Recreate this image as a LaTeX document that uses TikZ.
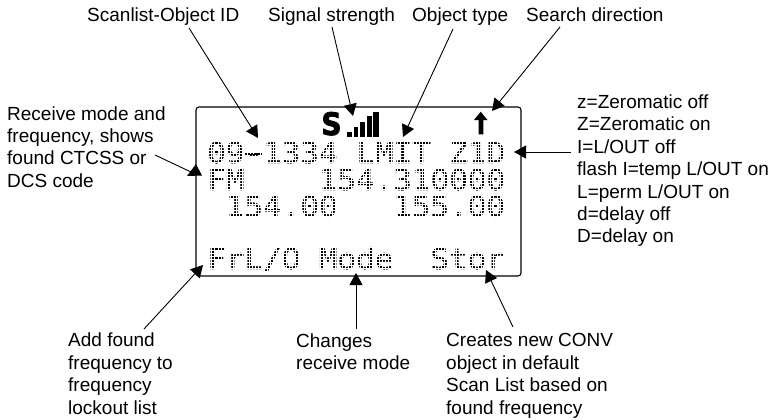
\documentclass[tikz,border=0pt]{standalone}
\usepackage{fontspec}
\setmainfont{Liberation Sans}
\newfontfamily\lcdfont[FakeStretch=1.075,FakeBold=1.0]{DejaVu Sans Mono}
\newfontfamily\iconfont[FakeStretch=0.9,FakeBold=2.5]{DejaVu Sans Bold}
\usetikzlibrary{arrows.meta}
\tikzset{
  x=1pt,y=-1pt,
  lbl/.style={anchor=base west,inner sep=0pt,align=left,font=\fontsize{19}{22.4}\selectfont},
  lcd/.style={anchor=base west,inner sep=0pt,font=\fontsize{28.8}{30}\lcdfont},
  conn/.style={line width=0.9pt,-{Triangle[length=12pt,width=13pt]},shorten >=0pt},
  frame/.style={line width=1.1pt,rounded corners=3pt},
}
\begin{document}
\begin{tikzpicture}
\useasboundingbox (0,0) rectangle (779,420);
% labels
\node[lbl] (scan) at (87,22) {Scanlist-Object ID};
\node[lbl] (sig) at (268,22) {Signal strength};
\node[lbl] (obj) at (412,22) {Object type};
\node[lbl] (srch) at (526,22) {Search direction};
\node[lbl] (rcv) at (7,187.2) {Receive mode and\\frequency, shows\\found CTCSS or\\DCS code};
\node[lbl] (flags) at (577,242.9) {z=Zeromatic off\\Z=Zeromatic on\\I=L/OUT off\\flash I=temp L/OUT on\\L=perm L/OUT on\\d=delay off\\D=delay on};
\node[lbl] (add) at (68,414) {Add found\\frequency to\\frequency\\lockout list};
\node[lbl] (chg) at (296,369.4) {Changes\\receive mode};
\node[lbl] (crt) at (446,414) {Creates new CONV\\object in default\\Scan List based on\\found frequency};
% LCD text
\node[lcd] (r1) at (207,163) {09-1334 LMIT Z1D};
\node[lcd] (r2a) at (207,190) {FM};
\node[lcd] (r2b) at (318.6,190) {154.310000};
\node[lcd] (r3a) at (225.6,216.5) {154.00};
\node[lcd] (r3b) at (393,216.5) {155.00};
\node[lcd] (r4a) at (207,269) {FrL/O};
\node[lcd] (r4b) at (318.6,269) {Mode};
\node[lcd] (r4c) at (430.2,269) {Stor};
% dot-matrix raster
\foreach \ya/\yb in {140/166,167/193,194/220,246/272}{
  \foreach \i in {0,...,98}{\draw[white,line width=0.8pt] ({205.5+3.1*\i},\ya) -- ({205.5+3.1*\i},\yb);}
  \foreach \j in {0,...,8}{\draw[white,line width=0.8pt] (205,{\ya+1+3.1*\j}) -- (510,{\ya+1+3.1*\j});}
}
% long LCD hyphen
\draw[line width=2.4pt,dash pattern=on 2.2pt off 0.9pt] (245,154.2) -- (262,154.2);
% frame
\draw[frame] (196,107) rectangle (521,276);
% status icons
\node[inner sep=0pt,anchor=base,font=\fontsize{31}{31}\iconfont] (ess) at (331.5,135) {S};
\fill (347.3,132.3) rectangle (351.7,137.3);
\fill (354,126.7) rectangle (358.3,137.3);
\fill (360,121.7) rectangle (365,137.3);
\fill (366.7,115.7) rectangle (372.3,137.3);
\fill (373.3,112.3) rectangle (379,137.3);
\fill (480.7,111.7) -- (487.5,120) -- (483.3,120) -- (483.3,134.3) -- (478.7,134.3) -- (478.7,120) -- (474,120) -- cycle;
% connector ends
\coordinate (t1) at (258,138);
\coordinate (s1) at (189,28);
\coordinate (t2) at (353,116);
\coordinate (s2) at (332,27);
\coordinate (t3) at (403,137);
\coordinate (s3) at (453,29);
\coordinate (t4) at (492,111);
\coordinate (s4) at (560,27);
\coordinate (t5) at (514,152);
\coordinate (s5) at (571,152);
\coordinate (t6) at (203,265);
\coordinate (s6) at (144,329);
\coordinate (t7) at (356,273);
\coordinate (s7) at (356,329);
\coordinate (t8) at (486,270);
\coordinate (s8) at (513,327);
\coordinate (s9) at (155,155);
\coordinate (t9) at (191,172);
\foreach \n in {1,...,8}{\draw[conn] (s\n) -- (t\n);}
\draw[line width=0.9pt] (s9) -- (t9);
\fill (196,164) -- (202,175.5) -- (187,176) -- cycle;
\end{tikzpicture}
\end{document}
